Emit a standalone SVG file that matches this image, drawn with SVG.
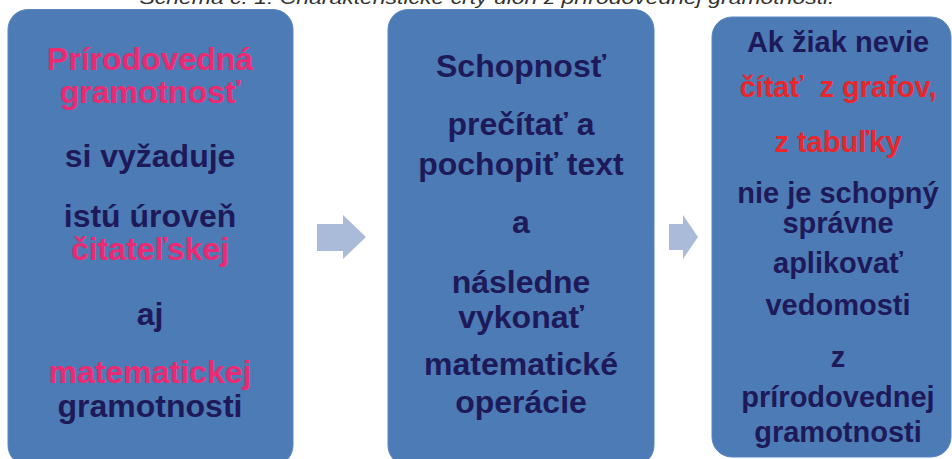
<svg xmlns="http://www.w3.org/2000/svg" width="952" height="459" viewBox="0 0 952 459">
<style>
.box{fill:#4D7BB5;stroke:#5A87BE;stroke-width:1}
.t{font-family:"Liberation Sans",Arial,sans-serif;font-weight:bold;text-anchor:middle;fill:#1E1A5A}
.big{font-size:32px}
.sm{font-size:29px}
.pink{fill:#EC2A72}
.red{fill:#E8262B}
.arrow{fill:#A9BBD8}
.cap{font-family:"Liberation Sans",Arial,sans-serif;font-style:italic;font-size:19px;fill:#333333;text-anchor:middle}
</style>
<rect width="952" height="459" fill="#FFFFFF"/>
<text class="cap" x="487" y="4" textLength="695" lengthAdjust="spacingAndGlyphs">Schéma č. 1: Charakteristické črty úloh z prírodovednej gramotnosti.</text>
<g id="connectors">
<polygon class="arrow" points="317,224 343,224 343,215 366,237 343,259 343,251 317,251"/>
<polygon class="arrow" points="669,224 683,224 683,215 698,237 683,259 683,250 669,250"/>
</g>
<g id="node1">
<rect class="box" x="8" y="9.5" width="285" height="456" rx="20"/>
<text class="t big pink" x="150" y="70">Prírodovedná</text>
<text class="t big pink" x="150" y="103">gramotnosť</text>
<text class="t big" x="150" y="167">si vyžaduje</text>
<text class="t big" x="150" y="227">istú úroveň</text>
<text class="t big pink" x="150" y="260">čitateľskej</text>
<text class="t big" x="150" y="325">aj</text>
<text class="t big pink" x="150" y="383">matematickej</text>
<text class="t big" x="150" y="417">gramotnosti</text>
</g>
<g id="node2">
<rect class="box" x="388" y="9.5" width="266" height="456" rx="20"/>
<text class="t big" x="521" y="77">Schopnosť</text>
<text class="t big" x="521" y="135">prečítať a</text>
<text class="t big" x="521" y="175">pochopiť text</text>
<text class="t big" x="521" y="233">a</text>
<text class="t big" x="521" y="293">následne</text>
<text class="t big" x="521" y="328">vykonať</text>
<text class="t big" x="521" y="375">matematické</text>
<text class="t big" x="521" y="413">operácie</text>
</g>
<g id="node3">
<rect class="box" x="712" y="17" width="239" height="440" rx="20"/>
<text class="t sm" x="838" y="52">Ak žiak nevie</text>
<text class="t sm red" x="838" y="97" xml:space="preserve">čítať  z grafov,</text>
<text class="t sm red" x="838" y="152">z tabuľky</text>
<text class="t sm" x="838" y="203">nie je schopný</text>
<text class="t sm" x="838" y="233">správne</text>
<text class="t sm" x="838" y="273">aplikovať</text>
<text class="t sm" x="838" y="315">vedomosti</text>
<text class="t sm" x="838" y="367">z</text>
<text class="t sm" x="838" y="407">prírodovednej</text>
<text class="t sm" x="838" y="442">gramotnosti</text>
</g>
</svg>
